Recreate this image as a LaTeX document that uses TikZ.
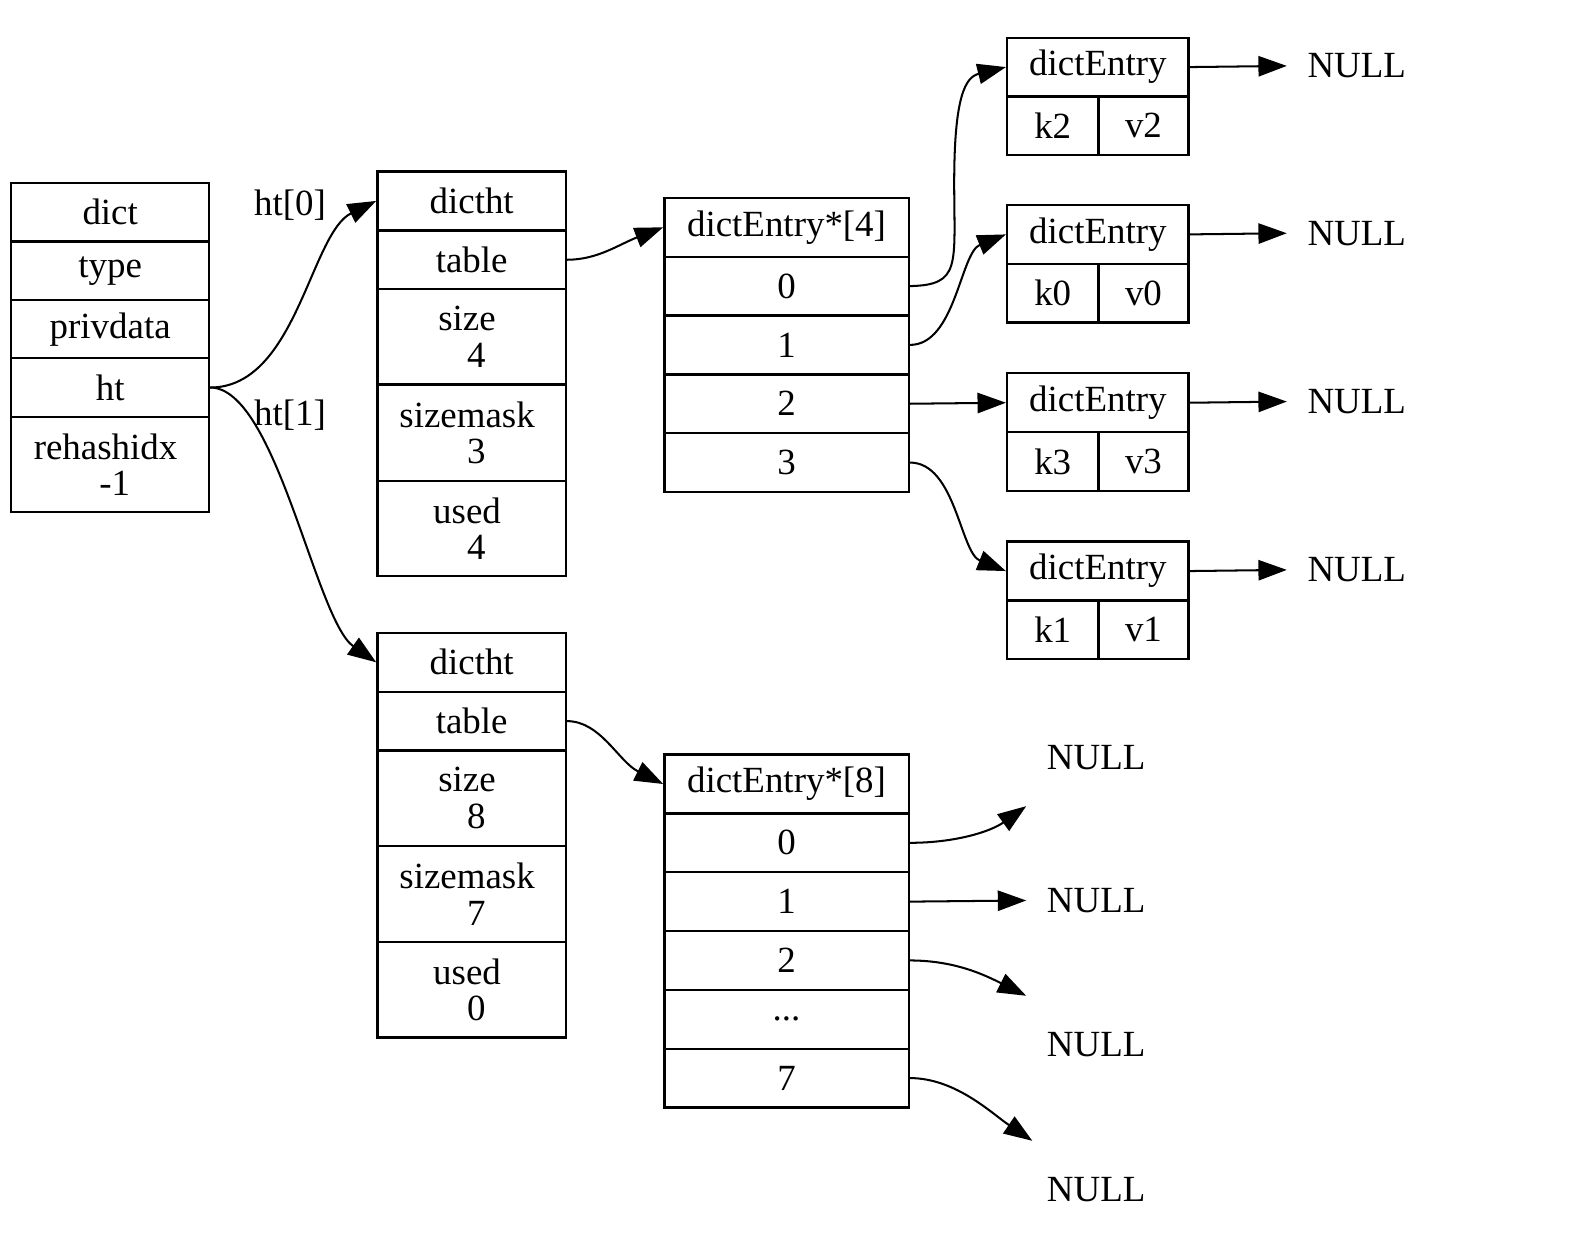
\documentclass[tikz,border=0pt]{standalone}
\usepackage{fontspec}
\setmainfont{Liberation Serif}
\usetikzlibrary{arrows.meta}
\newcommand{\rcgap}{\rule{0.25em}{0pt}}
\newcommand{\rcell}[6]{\node[cell, minimum width=#4*0.5pt, minimum height=#5*0.5pt] (#1) at (#2,#3) {#6};}
\begin{document}
\begin{tikzpicture}[x=0.5pt,y=-0.5pt,
  txt/.style={font=\fontsize{18.2}{18}\selectfont},
  cell/.style={txt, draw, line width=1.15pt, inner sep=0pt, anchor=north west, align=center},
  nullnode/.style={txt, inner sep=0pt, outer sep=0pt, minimum width=69pt, minimum height=48pt},
  lbl/.style={txt, inner sep=0pt},
  edge/.style={line width=1pt, -{Triangle[length=14pt,width=10pt]}}]
\useasboundingbox (0,0) rectangle (1568,1215);
% dict
\rcell{d0}{10}{179}{195}{58}{dict}
\rcell{d1}{10}{237}{195}{58}{type}
\rcell{d2}{10}{295}{195}{57}{privdata}
\rcell{d3}{10}{352}{195}{58}{ht}
\rcell{d4}{10}{410}{195}{94}{rehashidx\rcgap\\\rcgap-1}
% dictht 0
\rcell{t0h}{371}{168}{186}{58}{dictht}
\rcell{t0t}{371}{226}{186}{58}{table}
\rcell{t0s}{371}{284}{186}{94}{size\rcgap\\\rcgap4}
\rcell{t0m}{371}{378}{186}{95}{sizemask\rcgap\\\rcgap3}
\rcell{t0u}{371}{473}{186}{94}{used\rcgap\\\rcgap4}
% dictht 1
\rcell{t1h}{371}{623}{186}{58}{dictht}
\rcell{t1t}{371}{681}{186}{58}{table}
\rcell{t1s}{371}{739}{186}{94}{size\rcgap\\\rcgap8}
\rcell{t1m}{371}{833}{186}{95}{sizemask\rcgap\\\rcgap7}
\rcell{t1u}{371}{928}{186}{94}{used\rcgap\\\rcgap0}
% array 4
\rcell{a4h}{654}{194}{241}{58}{dictEntry*[4]}
\rcell{a4r0}{654}{252}{241}{58}{0}
\rcell{a4r1}{654}{310}{241}{58}{1}
\rcell{a4r2}{654}{368}{241}{58}{2}
\rcell{a4r3}{654}{426}{241}{58}{3}
% array 8
\rcell{a8h}{654}{743}{241}{58}{dictEntry*[8]}
\rcell{a8r0}{654}{801}{241}{58}{0}
\rcell{a8r1}{654}{859}{241}{58}{1}
\rcell{a8r2}{654}{917}{241}{58}{2}
\rcell{a8rd}{654}{975}{241}{58}{...}
\rcell{a8r7}{654}{1033}{241}{58}{7}
% entries
\rcell{e2h}{992}{36}{179}{58}{dictEntry}
\rcell{e2k}{992}{94}{90}{58}{k2}
\rcell{e2v}{1082}{94}{89}{58}{v2}
\rcell{e0h}{992}{201}{179}{58}{dictEntry}
\rcell{e0k}{992}{259}{90}{58}{k0}
\rcell{e0v}{1082}{259}{89}{58}{v0}
\rcell{e3h}{992}{367}{179}{58}{dictEntry}
\rcell{e3k}{992}{425}{90}{58}{k3}
\rcell{e3v}{1082}{425}{89}{58}{v3}
\rcell{e1h}{992}{533}{179}{58}{dictEntry}
\rcell{e1k}{992}{591}{90}{58}{k1}
\rcell{e1v}{1082}{591}{89}{58}{v1}
% NULL nodes
\node[nullnode] (n2) at (1338,65) {NULL};
\node[nullnode] (n0) at (1338,230) {NULL};
\node[nullnode] (n3) at (1338,396) {NULL};
\node[nullnode] (n1) at (1338,562) {NULL};
\node[nullnode] (m0) at (1081,747) {NULL};
\node[nullnode] (m1) at (1081,888) {NULL};
\node[nullnode] (m2) at (1081,1030) {NULL};
\node[nullnode] (m7) at (1081,1173) {NULL};
% labels
\node[lbl] (l0) at (286,202) {ht[0]};
\node[lbl] (l1) at (286,409) {ht[1]};
% edges
\draw[edge] (d3.east) .. controls +(85,0) and +(-65,32) .. (t0h.west);
\draw[edge] (d3.east) .. controls +(65,0) and +(-60,-42) .. (t1h.west);
\draw[edge] (t0t.east) .. controls +(30,0) and +(-44,17) .. (a4h.west);
\draw[edge] (t1t.east) .. controls +(33,0) and +(-44,-22) .. (a8h.west);
\draw[edge] (a4r0.east) .. controls (948,281) and (941,262) .. (941,180) .. controls (941,95) and (952,76) .. (e2h.west);
\draw[edge] (a4r1.east) .. controls +(45,0) and +(-45,18) .. (e0h.west);
\draw[edge] (a4r2.east) -- (e3h.west);
\draw[edge] (a4r3.east) .. controls +(45,0) and +(-45,-18) .. (e1h.west);
\draw[edge] (e2h.east) -- (n2.west);
\draw[edge] (e0h.east) -- (n0.west);
\draw[edge] (e3h.east) -- (n3.west);
\draw[edge] (e1h.east) -- (n1.west);
\draw[edge] (a8r0.east) .. controls +(45,0) and +(-35,25) .. (m0.south west);
\draw[edge] (a8r1.east) -- (m1.west);
\draw[edge] (a8r2.east) .. controls +(45,0) and +(-40,-20) .. (m2.north west);
\draw[edge] (a8r7.east) .. controls +(45,0) and +(-40,-27) .. ([xshift=3pt]m7.north west);
\end{tikzpicture}
\end{document}
